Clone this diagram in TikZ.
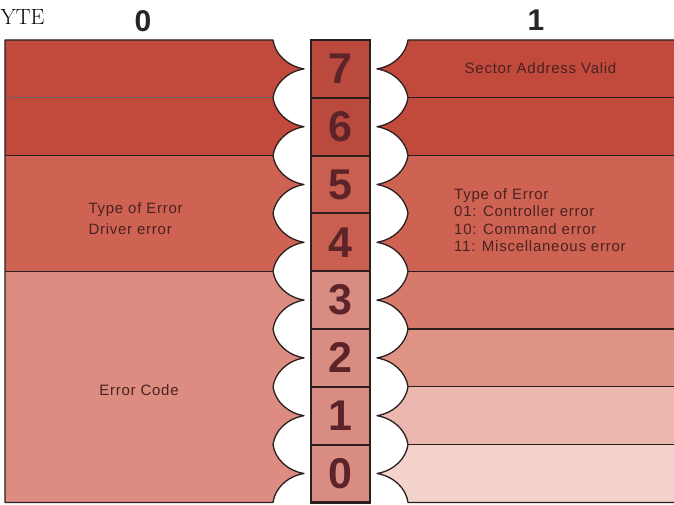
\documentclass[tikz,border=0pt]{standalone}
\usepackage{fontspec}
\newfontfamily\lab[LetterSpace=5]{Liberation Sans}
\newfontfamily\dig{Liberation Sans}
\definecolor{r76}{HTML}{C24A3D}
\definecolor{r54}{HTML}{CF6353}
\definecolor{rlo}{HTML}{DC8C80}
\definecolor{rr3}{HTML}{D67B6B}
\definecolor{rr2}{HTML}{DE9385}
\definecolor{rr1}{HTML}{EAB8AE}
\definecolor{rr0}{HTML}{F3D3CC}
\definecolor{b76}{HTML}{BA4A3E}
\definecolor{b54}{HTML}{C85F50}
\definecolor{blo}{HTML}{D98C82}
\definecolor{lineclr}{HTML}{2B1E1E}
\definecolor{txtclr}{HTML}{4A2220}
\definecolor{digclr}{HTML}{5C2328}
\begin{document}
\begin{tikzpicture}[x=1pt,y=-1pt,
  outl/.style={draw=lineclr,line width=1.3pt,line join=round},
  sep/.style={draw=lineclr,line width=1.1pt},
  boxline/.style={draw=lineclr,line width=2pt},
  lbl/.style={text=txtclr,font=\lab\fontsize{15}{17.4}\selectfont,inner sep=0pt},
  dg/.style={text=digclr,font=\dig\bfseries\fontsize{43}{43}\selectfont,inner sep=0pt},
  hd/.style={text=black!85,font=\dig\bfseries\fontsize{30}{30}\selectfont,inner sep=0pt},
]
\useasboundingbox (0,0) rectangle (674,505);
\clip (0,0) rectangle (674,505);
\def\leftpanel{(5,40) -- (273,40)
  \foreach \k in {0,...,7}{
   .. controls (275,{40+57.8*\k+14}) and (287,{40+57.8*\k+26}) .. (304,{40+57.8*\k+28.9})
   .. controls (287,{40+57.8*\k+31.8}) and (275,{40+57.8*\k+43.8}) .. (273,{40+57.8*\k+57.8})}
  -- (5,502.4) -- cycle}
\def\rightpanel{(690,40) -- (408,40)
  \foreach \k in {0,...,7}{
   .. controls (406,{40+57.8*\k+14}) and (394,{40+57.8*\k+26}) .. (377,{40+57.8*\k+28.9})
   .. controls (394,{40+57.8*\k+31.8}) and (406,{40+57.8*\k+43.8}) .. (408,{40+57.8*\k+57.8})}
  -- (690,502.4) -- cycle}
% left panel fills
\begin{scope}
\clip \leftpanel;
\fill[r76] (0,30) rectangle (320,155.6);
\fill[r54] (0,155.6) rectangle (320,271.2);
\fill[rlo] (0,271.2) rectangle (320,510);
\end{scope}
% right panel fills
\begin{scope}
\clip \rightpanel;
\fill[r76] (360,30) rectangle (690,155.6);
\fill[r54] (360,155.6) rectangle (690,271.2);
\fill[rr3] (360,271.2) rectangle (690,329);
\fill[rr2] (360,329) rectangle (690,386.8);
\fill[rr1] (360,386.8) rectangle (690,444.6);
\fill[rr0] (360,444.6) rectangle (690,510);
\end{scope}
% separators
\draw[sep,draw=lineclr!70] (5,97.8) -- (273,97.8);
\foreach \yy in {155.6,271.2}{\draw[sep] (5,\yy) -- (273,\yy);}
\foreach \yy in {97.8,155.6,271.2,329,386.8,444.6}{\draw[sep] (408,\yy) -- (690,\yy);}
\draw[outl] \leftpanel;
\draw[outl] \rightpanel;
% center box
\fill[b76] (311,40) rectangle (370,155.6);
\fill[b54] (311,155.6) rectangle (370,271.2);
\fill[blo] (311,271.2) rectangle (370,502.4);
\foreach \yy in {97.8,155.6,213.4,271.2,329,386.8,444.6}{\draw[boxline] (311,\yy) -- (370,\yy);}
\draw[draw=lineclr,line width=2.6pt] (311,40) rectangle (370,502.4);
\node[dg] (d7) at (340.5,68.9) {7};
\node[dg] (d6) at (340.5,126.7) {6};
\node[dg] (d5) at (340.5,184.5) {5};
\node[dg] (d4) at (340.5,242.3) {4};
\node[dg] (d3) at (340.5,300.1) {3};
\node[dg] (d2) at (340.5,357.9) {2};
\node[dg] (d1) at (340.5,415.7) {1};
\node[dg] (d0) at (340.5,473.5) {0};
% headers
\node[anchor=base west,inner sep=0pt,font=\fontsize{22}{22}\selectfont] (byte) at (0.5,25) {YTE};
\node[hd] (h0) at (143,21) {0};
\node[hd] (h1) at (536,20.5) {1};
% labels
\node[lbl,anchor=base] (sav) at (540.5,73.3) {Sector Address Valid};
\node[lbl,anchor=base west] (lt1) at (88.3,213.3) {Type of Error};
\node[lbl,anchor=base west] (lt2) at (88.3,234) {Driver error};
\node[lbl,anchor=base] (ec) at (139,395) {Error Code};
\node[lbl,anchor=base west] (rt1) at (454,199.3) {Type of Error};
\node[lbl,anchor=base west] (rt2) at (454,216.7) {01: Controller error};
\node[lbl,anchor=base west] (rt3) at (454,234) {10: Command error};
\node[lbl,anchor=base west] (rt4) at (454,251.5) {11: Miscellaneous error};
\end{tikzpicture}
\end{document}
